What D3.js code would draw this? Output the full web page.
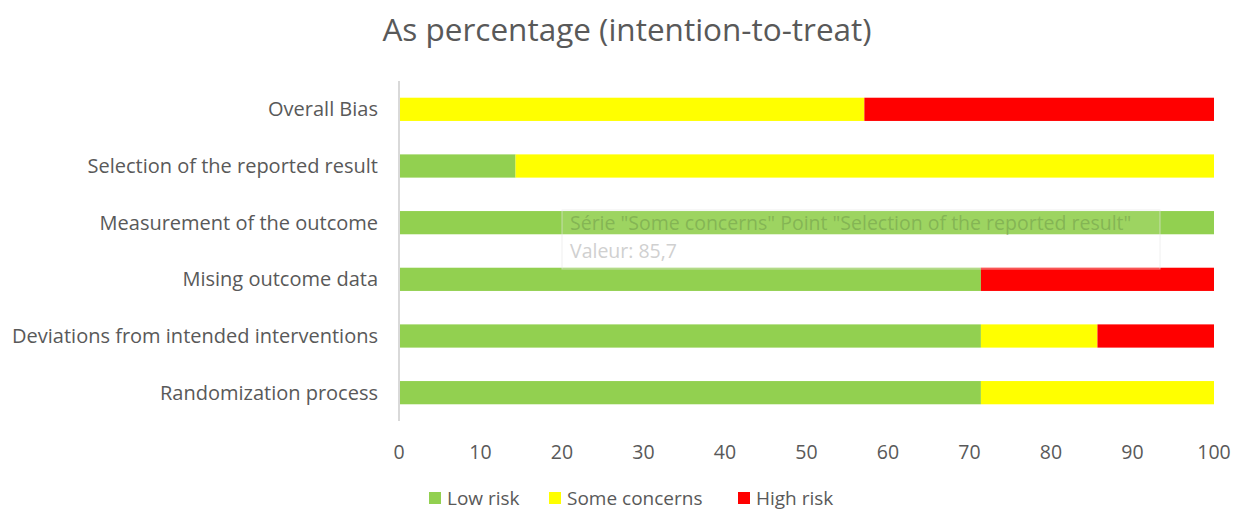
<!DOCTYPE html>
<html>
<head>
<meta charset="utf-8">
<script src="https://d3js.org/d3.v7.min.js"></script>
<style>
  body { margin: 0; background: #fff; }
  text { font-family: "Open Sans", sans-serif; fill: #595959; }
</style>
</head>
<body>
<svg id="chart" width="1236" height="512"></svg>
<script>
// data
var categories = ["Overall Bias", "Selection of the reported result", "Measurement of the outcome",
                  "Mising outcome data", "Deviations from intended interventions", "Randomization process"];
var lowRisk      = [0, 14.3, 100, 71.4, 71.4, 71.4];
var someConcerns = [57.1, 85.7, 0, 0, 14.3, 28.6];
var highRisk     = [42.9, 0, 0, 28.6, 14.3, 0];
var seriesNames  = ["Low risk", "Some concerns", "High risk"];
var colors       = ["#92D050", "#FFFF00", "#FF0000"];
var xTicks       = [0, 10, 20, 30, 40, 50, 60, 70, 80, 90, 100];

var svg = d3.select("#chart");
var margin = { top: 81, right: 22, bottom: 91, left: 399 };
var width = +svg.attr("width") - margin.left - margin.right;
var height = +svg.attr("height") - margin.top - margin.bottom;

var rows = categories.map(function(c, i) {
  return { cat: c, low: lowRisk[i], some: someConcerns[i], high: highRisk[i] };
});
var keys = ["low", "some", "high"];

var x = d3.scaleLinear().domain([0, 100]).range([0, width]);
var y = d3.scaleBand().domain(categories).range([0, height]).paddingInner(0.59).paddingOuter(0.295);
var z = d3.scaleOrdinal().domain(keys).range(colors);

svg.append("text")
  .attr("x", 627).attr("y", 41)
  .attr("text-anchor", "middle")
  .attr("font-size", "31.5px")
  .text("As percentage (intention-to-treat)");

var g = svg.append("g").attr("transform", "translate(" + margin.left + "," + margin.top + ")");

g.append("g")
  .selectAll("g")
  .data(d3.stack().keys(keys)(rows))
  .enter().append("g")
    .attr("fill", function(d) { return z(d.key); })
  .selectAll("rect")
  .data(function(d) { return d; })
  .enter().append("rect")
    .attr("x", function(d) { return x(d[0]); })
    .attr("y", function(d) { return y(d.data.cat); })
    .attr("width", function(d) { return x(d[1]) - x(d[0]); })
    .attr("height", y.bandwidth());

// vertical axis line
g.append("line")
  .attr("x1", 0).attr("x2", 0)
  .attr("y1", 0).attr("y2", height)
  .attr("stroke", "#d9d9d9").attr("stroke-width", 2);

// category labels
g.selectAll(".cat")
  .data(categories)
  .enter().append("text")
    .attr("x", -21)
    .attr("y", function(d) { return y(d) + y.bandwidth() / 2; })
    .attr("dy", "0.35em")
    .attr("text-anchor", "end")
    .attr("font-size", "20px")
    .text(function(d) { return d; });

// x tick labels
g.selectAll(".tick")
  .data(xTicks)
  .enter().append("text")
    .attr("x", function(d) { return x(d); })
    .attr("y", height + 38)
    .attr("text-anchor", "middle")
    .attr("font-size", "19.5px")
    .text(function(d) { return d; });

// legend
var legendX = [429, 549, 738];
var legend = svg.append("g");
seriesNames.forEach(function(name, i) {
  legend.append("rect")
    .attr("x", legendX[i]).attr("y", 492)
    .attr("width", 12).attr("height", 12)
    .attr("fill", colors[i]);
  legend.append("text")
    .attr("x", legendX[i] + 18).attr("y", 505)
    .attr("font-size", "19px")
    .text(name);
});

// leftover hover tooltip from the original screenshot
var tip = svg.append("g").attr("transform", "translate(562,210)");
tip.append("rect")
  .attr("width", 598).attr("height", 59)
  .attr("fill", "#fff").attr("fill-opacity", 0.1)
  .attr("stroke", "#e6e6e6").attr("stroke-opacity", 0.6);
tip.append("text")
  .attr("x", 8).attr("y", 20)
  .attr("font-size", "19.5px")
  .style("fill", "#6f9a4a").attr("fill-opacity", 0.55)
  .text("Série \"Some concerns\" Point \"Selection of the reported result\"");
tip.append("text")
  .attr("x", 8).attr("y", 48)
  .attr("font-size", "19.5px")
  .style("fill", "#d0d0d0")
  .text("Valeur: 85,7");
</script>
</body>
</html>
